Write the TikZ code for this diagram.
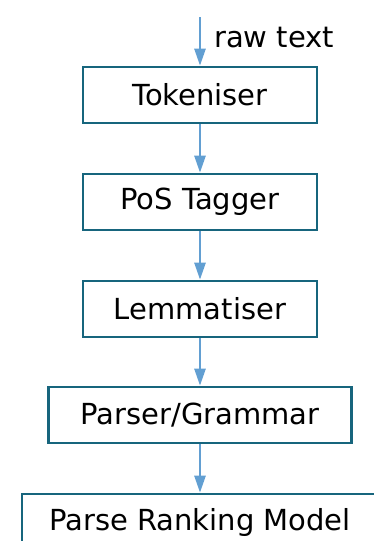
\documentclass[tikz,border=0pt]{standalone}
\usepackage{fontspec}
\setmainfont{DejaVu Sans}
\usetikzlibrary{arrows.meta}
\definecolor{boxcol}{HTML}{17657D}
\definecolor{arrcol}{HTML}{629FD2}
\begin{document}
\begin{tikzpicture}[x=1pt,y=-1pt,
  lbl/.style={font=\fontsize{29}{34}\selectfont,text=black},
  stage/.style={lbl,draw=boxcol,line width=2.6pt,minimum height=56pt,inner sep=0pt},
  flow/.style={draw=arrcol,line width=2.5pt,-{Triangle[length=17pt,width=11pt]}}]
\useasboundingbox (0,0) rectangle (374,541);
\begin{scope}
\clip (0,0) rectangle (374,541);
\node[stage,minimum width=234pt] (tok) at (200,95) {Tokeniser};
\node[stage,minimum width=234pt] (pos) at (200,202) {PoS Tagger};
\node[stage,minimum width=234pt] (lem) at (200,309) {Lemmatiser};
\node[stage,minimum width=303pt] (par) at (200,415) {Parser/Grammar};
\node[stage,minimum width=356pt] (prm) at (200,522) {Parse Ranking Model};
\end{scope}
\coordinate (in) at (200,17);
\node[lbl,anchor=base west,inner sep=0pt] (raw) at (214,47) {raw text};
\draw[flow] (in) -- (tok.north);
\draw[flow] (tok) -- (pos);
\draw[flow] (pos) -- (lem);
\draw[flow] (lem) -- (par);
\draw[flow] (par) -- (prm);
\end{tikzpicture}
\end{document}
